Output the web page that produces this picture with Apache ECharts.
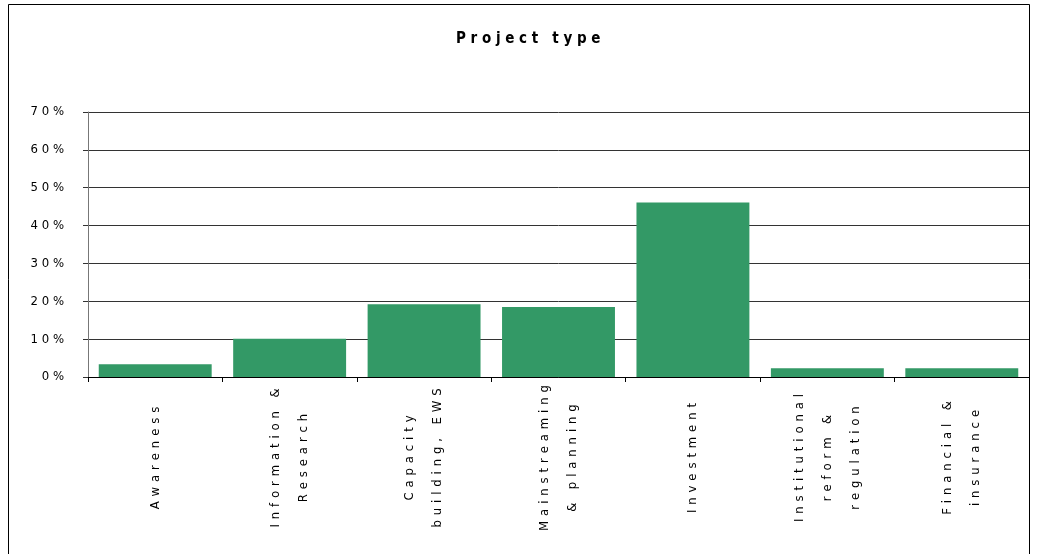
<!DOCTYPE html>
<html>
<head>
<meta charset="utf-8">
<script src="https://cdn.jsdelivr.net/npm/echarts@6/dist/echarts.min.js"></script>
<style>
html,body{margin:0;padding:0;background:#fff;}
#chart{width:1037px;height:554px;}
</style>
</head>
<body>
<div id="chart"></div>
<script>
const titleText = "Project type";
const categories = [
  "Awareness",
  "Information &\nResearch",
  "Capacity\nbuilding, EWS",
  "Mainstreaming\n& planning",
  "Investment",
  "Institutional\nreform &\nregulation",
  "Financial &\ninsurance"
];
const shares = [3.4, 10.1, 19.2, 18.5, 46.1, 2.3, 2.3];
const yTicks = [0, 10, 20, 30, 40, 50, 60, 70];

const FONT = '"DejaVu Sans Condensed", "Liberation Sans Narrow", "Liberation Sans", Arial, sans-serif';
function spaced(s, gap) {
  return s.split('\n').map(l => l.split('').join(gap || ' ')).join('\n');
}

const chart = echarts.init(document.getElementById('chart'), null, {renderer: 'canvas'});
chart.setOption({
  animation: false,
  backgroundColor: '#fff',
  title: {
    text: spaced(titleText),
    left: 451,
    top: 27,
    textStyle: {fontFamily: FONT, fontSize: 15, fontWeight: 'bold', color: '#000'}
  },
  graphic: [{
    type: 'rect',
    shape: {x: 8.5, y: 4.5, width: 1021, height: 600},
    style: {fill: 'none', stroke: '#000', lineWidth: 1},
    silent: true
  }],
  grid: {left: 88, right: 8, top: 112, bottom: 177, containLabel: false},
  xAxis: {
    type: 'category',
    data: categories,
    axisLine: {show: true, lineStyle: {color: '#000', width: 1}},
    axisTick: {show: true, length: 5, alignWithLabel: false, lineStyle: {color: '#000'}},
    axisLabel: {
      rotate: 90,
      interval: 0,
      margin: 81,
      fontFamily: FONT,
      fontSize: 13,
      lineHeight: 28,
      color: '#000',
      align: 'center',
      formatter: v => spaced(v, ' \u200A')
    }
  },
  yAxis: {
    type: 'value',
    min: 0,
    max: 70,
    interval: 10,
    axisLine: {show: true, lineStyle: {color: '#777', width: 1}},
    axisTick: {show: true, length: 5, lineStyle: {color: '#333'}},
    splitLine: {show: true, lineStyle: {color: '#333', width: 1}},
    axisLabel: {
      margin: 24,
      fontFamily: FONT,
      fontSize: 13,
      color: '#000',
      formatter: v => yTicks.indexOf(v) >= 0 ? spaced(v + '%') : ''
    }
  },
  series: [{
    type: 'bar',
    data: shares,
    barCategoryGap: '16%',
    itemStyle: {color: '#339966'}
  }]
});
</script>
</body>
</html>
